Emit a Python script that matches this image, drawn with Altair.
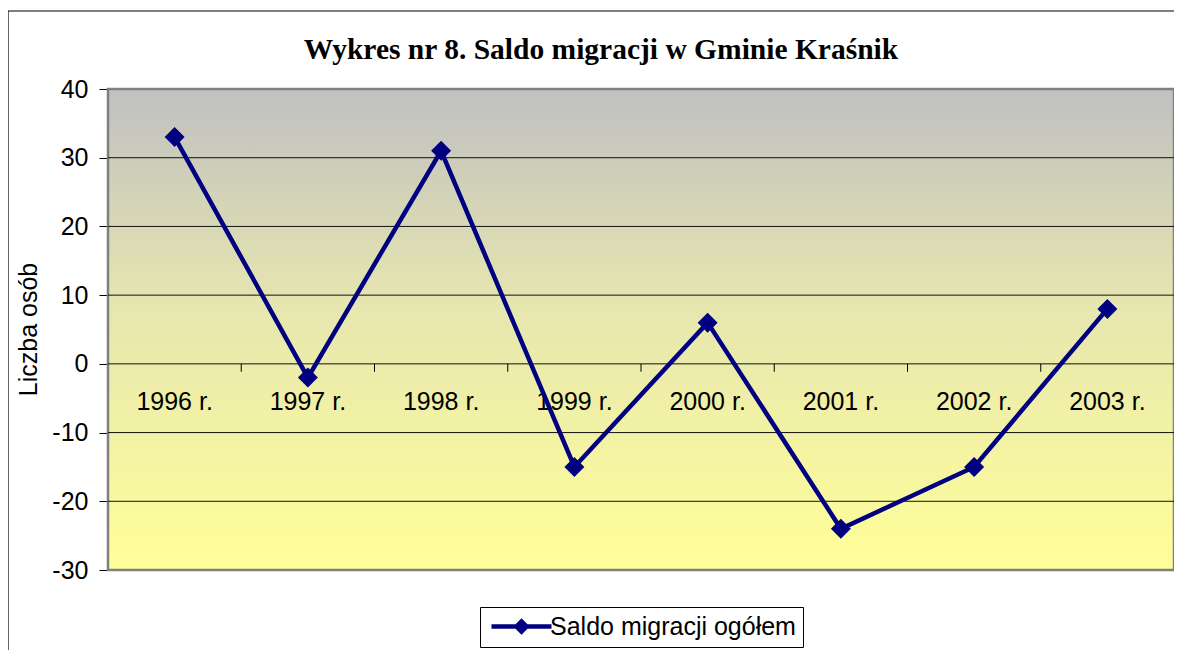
import altair as alt
import pandas as pd

years = ["1996 r.", "1997 r.", "1998 r.", "1999 r.", "2000 r.", "2001 r.", "2002 r.", "2003 r."]
values = [33, -2, 31, -15, 6, -24, -15, 8]
grid_values = [-20, -10, 0, 10, 20, 30]
y_ticks = [-30, -20, -10, 0, 10, 20, 30, 40]
boundaries = [0.5, 1.5, 2.5, 3.5, 4.5, 5.5, 6.5]
series_name = "Saldo migracji ogółem"
title_text = "Wykres nr 8. Saldo migracji w Gminie Kraśnik"
y_title = "Liczba osób"

W, H = 1066, 481
NAVY = "#000080"
FONT = "Liberation Sans"

df = pd.DataFrame({"idx": list(range(len(years))), "year": years, "value": values,
                   "series": [series_name] * len(years)})
grid_df = pd.DataFrame({"g": grid_values, "x0": [-0.5] * len(grid_values), "x1": [7.5] * len(grid_values)})
bnd_df = pd.DataFrame({"b": boundaries, "y0": [0] * len(boundaries), "y1": [-1.15] * len(boundaries)})
area_df = pd.DataFrame({"x0": [-0.5], "x1": [7.5], "y0": [40], "y1": [-30]})
title_df = pd.DataFrame({"t": [title_text]})

xscale = alt.Scale(domain=[-0.5, 7.5], nice=False, zero=False)
yscale = alt.Scale(domain=[-30, 40], nice=False, zero=False)

frame = alt.Chart(area_df).mark_rect(fillOpacity=0, stroke="black", strokeWidth=1.2, clip=False).encode(
    x=alt.value(-100), x2=alt.value(1200), y=alt.value(-78), y2=alt.value(700)
)

title = alt.Chart(title_df).mark_text(font="Liberation Serif", fontSize=29.5, fontWeight="bold",
                                      color="black", align="center", baseline="alphabetic").encode(
    x=alt.value(493), y=alt.value(-30), text="t:N"
)

bg = alt.Chart(area_df).mark_rect(
    fill=alt.Gradient(gradient="linear", x1=0, y1=0, x2=0, y2=1,
                      stops=[alt.GradientStop(color="#C0C0C0", offset=0),
                             alt.GradientStop(color="#E6E6B0", offset=0.45),
                             alt.GradientStop(color="#FFFF99", offset=1)]),
    stroke="#808080", strokeWidth=2.5
).encode(
    x=alt.X("x0:Q", scale=xscale, axis=None), x2="x1:Q",
    y=alt.Y("y0:Q", scale=yscale), y2="y1:Q"
)

grid = alt.Chart(grid_df).mark_rule(color="#111111", strokeWidth=1).encode(
    y=alt.Y("g:Q", scale=yscale,
            axis=alt.Axis(values=y_ticks, title=y_title, grid=False, domain=False,
                          labelExpr="'' + datum.value",
                          tickSize=9, tickColor="black", labelPadding=11,
                          labelFont=FONT, labelFontSize=25, labelColor="black",
                          titleFont=FONT, titleFontSize=25, titleFontWeight="normal",
                          titleColor="black", titleX=-80, titleY=240, titleAngle=270,
                          titleAlign="center", titleBaseline="middle")),
    x=alt.X("x0:Q", scale=xscale, axis=None), x2="x1:Q"
)

ticks = alt.Chart(bnd_df).mark_rule(color="black", strokeWidth=1).encode(
    x=alt.X("b:Q", scale=xscale, axis=None),
    y=alt.Y("y0:Q", scale=yscale), y2="y1:Q"
)

labels = alt.Chart(df).mark_text(font=FONT, fontSize=25, color="black", dy=38, baseline="middle").encode(
    x=alt.X("idx:Q", scale=xscale, axis=None),
    y=alt.Y("y0:Q", scale=yscale),
    text="year:N"
).transform_calculate(y0="0")

line = alt.Chart(df).mark_line(color=NAVY, strokeWidth=4.5).encode(
    x=alt.X("idx:Q", scale=xscale, axis=None),
    y=alt.Y("value:Q", scale=yscale)
)

# legend glyph: line with a diamond, in units of 8px (symbolSize 256 -> r = 8)
legend_path = ("M-1,-0.28 L2,-0.28 L2.75,-1.03 L3.5,-0.28 L6.5,-0.28 L6.5,0.28 "
               "L3.5,0.28 L2.75,1.03 L2,0.28 L-1,0.28 Z")

points = alt.Chart(df).mark_point(shape="diamond", filled=True, size=400, opacity=1).encode(
    x=alt.X("idx:Q", scale=xscale, axis=None),
    y=alt.Y("value:Q", scale=yscale),
    color=alt.Color("series:N", scale=alt.Scale(range=[NAVY]),
                    legend=alt.Legend(title=None, orient="none", legendX=372, legendY=518,
                                      symbolType=legend_path, symbolSize=256,
                                      symbolStrokeWidth=0, symbolOpacity=1,
                                      labelFont=FONT, labelFontSize=25, labelColor="black",
                                      labelLimit=400, labelOffset=38,
                                      strokeColor="black", padding=7, fillColor="white"))
)

chart = alt.layer(frame, title, bg, grid, ticks, labels, line, points).properties(
    width=W, height=H,
    autosize=alt.AutoSizeParams(type="none"),
    padding={"left": 100, "top": 81, "right": 0, "bottom": 80},
    background="white",
).configure_view(stroke=None)

chart.save("out.html", embed_options={"renderer": "svg", "actions": False})
